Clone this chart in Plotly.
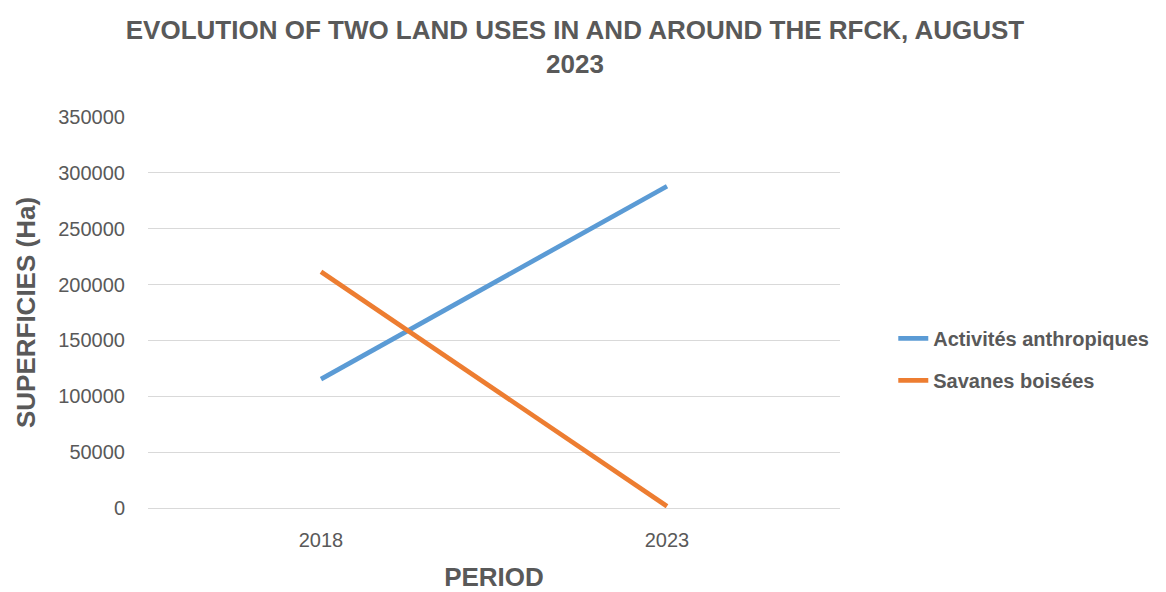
import plotly.graph_objects as go

periods = ["2018", "2023"]
activites = [115400, 288000]
savanes = [211500, 1500]
y_ticks = [0, 50000, 100000, 150000, 200000, 250000, 300000, 350000]

FONT = "Liberation Sans, Arial, sans-serif"
GRAY = "#595959"

fig = go.Figure()
fig.add_trace(go.Scatter(x=periods, y=activites, mode="lines", name="<b>Activités anthropiques</b>",
                         line=dict(color="#5B9BD5", width=4.7), legendgroup="a"))
fig.add_trace(go.Scatter(x=periods, y=savanes, mode="lines", name="<b>Savanes boisées</b>",
                         line=dict(color="#ED7D31", width=4.7), legendgroup="b"))

fig.update_layout(
    width=1166, height=592,
    margin=dict(l=148, r=326, t=117, b=84),
    paper_bgcolor="white", plot_bgcolor="white",
    title=dict(text="<b>EVOLUTION OF TWO LAND USES IN AND AROUND THE RFCK, AUGUST<br>2023</b>",
               x=575/1166, xanchor="center", xref="container",
               y=1-39/592, yanchor="middle", yref="container",
               font=dict(family=FONT, size=26, color=GRAY)),
    legend=dict(x=1.077, xanchor="left", y=0.38, yanchor="middle",
                font=dict(family=FONT, size=20, color=GRAY), tracegroupgap=13,
                bgcolor="rgba(0,0,0,0)"),
    xaxis=dict(type="category", range=[-0.5, 1.5], showgrid=False, showline=False,
               zeroline=False, ticks="", tickfont=dict(family=FONT, size=20, color=GRAY),
               ticklabelstandoff=18, automargin=False,
               title=dict(text="<b>PERIOD</b>", font=dict(family=FONT, size=26, color=GRAY), standoff=22)),
    yaxis=dict(range=[0, 350000], tickvals=y_ticks, ticktext=[str(v) for v in y_ticks],
               showgrid=True, gridcolor="#D9D9D9", gridwidth=1.3, zeroline=True,
               zerolinecolor="#D9D9D9", zerolinewidth=1.3, showline=False, ticks="",
               tickfont=dict(family=FONT, size=20, color=GRAY), ticklabelstandoff=22,
               automargin=False,
               title=dict(text="<b>SUPERFICIES (Ha)</b>", font=dict(family=FONT, size=26, color=GRAY), standoff=15)),
)

fig.write_html("out.html")
